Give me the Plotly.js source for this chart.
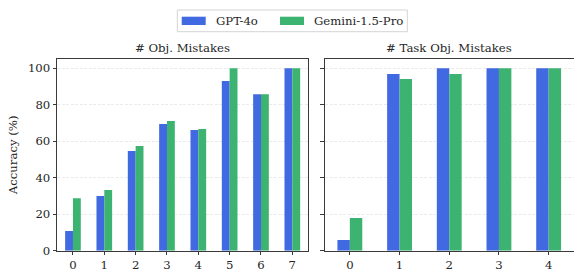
<!DOCTYPE html>
<html><head><meta charset="utf-8">
<script src="https://cdn.plot.ly/plotly-3.0.1.min.js"></script>
<style>html,body{margin:0;padding:0;background:#fff}</style>
</head><body><div id="chart" style="width:574px;height:271px"></div>
<script>
const objCats = ['0','1','2','3','4','5','6','7'];
const objGpt = [10.8, 30.0, 54.6, 69.4, 66.1, 92.9, 85.7, 100];
const objGemini = [28.7, 33.3, 57.4, 71.1, 66.7, 100, 85.7, 100];
const taskCats = ['0','1','2','3','4'];
const taskGpt = [5.9, 96.8, 100, 100, 100];
const taskGemini = [17.9, 94.1, 96.8, 100, 100];
const seriesNames = ['GPT-4o', 'Gemini-1.5-Pro'];
const colors = ['#4169E1', '#3CB371'];
const panelTitles = ['# Obj. Mistakes', '# Task Obj. Mistakes'];
const yTicks = [0, 20, 40, 60, 80, 100];

const W = 574, H = 271;
const px = v => v / W, py = v => (H - v) / H;
const FONT = '"DejaVu Serif", serif';
const FS = 11.7;
const TXT = {family:FONT, size:FS, color:'#262626'};

const traces = [
  {type:'bar', x: objCats, y: objGpt, name: seriesNames[0], marker:{color: colors[0]}, xaxis:'x', yaxis:'y', showlegend:false},
  {type:'bar', x: objCats, y: objGemini, name: seriesNames[1], marker:{color: colors[1]}, xaxis:'x', yaxis:'y', showlegend:false},
  {type:'bar', x: taskCats, y: taskGpt, name: seriesNames[0], marker:{color: colors[0]}, xaxis:'x2', yaxis:'y2', showlegend:false},
  {type:'bar', x: taskCats, y: taskGemini, name: seriesNames[1], marker:{color: colors[1]}, xaxis:'x2', yaxis:'y2', showlegend:false}
];

const axCommon = {
  showline:true, mirror:true, linecolor:'#3a3a3a', linewidth:1.2,
  ticks:'outside', ticklen:3.5, tickwidth:1, tickcolor:'#3a3a3a',
  tickfont:TXT, zeroline:false
};
const yDomain = [py(250.7), py(59)];
const yCommon = Object.assign({}, axCommon, {
  range:[0,105], tickvals: yTicks, showgrid:true, gridcolor:'#e6e6e6', griddash:'3px,1.5px', gridwidth:0.8,
  domain: yDomain
});

const layout = {
  width: W, height: H,
  margin:{l:0, r:0, t:0, b:0},
  paper_bgcolor:'#fff', plot_bgcolor:'#fff',
  font:TXT,
  barmode:'group', bargap:0.5, bargroupgap:0,
  xaxis: Object.assign({}, axCommon, {domain:[px(57.3), px(308)], anchor:'y', type:'category', range:[-0.5,7.5], showgrid:false}),
  yaxis: Object.assign({}, yCommon, {anchor:'x',
    title:{text:'Accuracy (%)', font:TXT, standoff:7}}),
  xaxis2: Object.assign({}, axCommon, {domain:[px(325), px(573.5)], anchor:'y2', type:'category', range:[-0.5,4.5], showgrid:false}),
  yaxis2: Object.assign({}, yCommon, {anchor:'x2', showticklabels:false}),
  annotations: [
    {text: panelTitles[0], xref:'paper', yref:'paper', x: px((57.3+308)/2), y: py(48), xanchor:'center', yanchor:'middle', showarrow:false, font:TXT},
    {text: panelTitles[1], xref:'paper', yref:'paper', x: px((325+573.5)/2), y: py(48), xanchor:'center', yanchor:'middle', showarrow:false, font:TXT},
    {text: seriesNames[0], xref:'paper', yref:'paper', x: px(213.5), y: py(20.7), xanchor:'left', yanchor:'middle', showarrow:false, font:TXT},
    {text: seriesNames[1], xref:'paper', yref:'paper', x: px(311.8), y: py(20.7), xanchor:'left', yanchor:'middle', showarrow:false, font:TXT}
  ],
  shapes: [
    {type:'rect', xref:'paper', yref:'paper', x0:px(177.3), x1:px(407.3), y0:py(31.7), y1:py(10), line:{color:'#d4d4d4', width:1}, fillcolor:'rgba(255,255,255,0.8)'},
    {type:'rect', xref:'paper', yref:'paper', x0:px(181.7), x1:px(205.7), y0:py(25), y1:py(16.7), line:{width:0}, fillcolor:colors[0]},
    {type:'rect', xref:'paper', yref:'paper', x0:px(280), x1:px(304), y0:py(25), y1:py(16.7), line:{width:0}, fillcolor:colors[1]}
  ]
};

Plotly.newPlot('chart', traces, layout, {staticPlot:true, displayModeBar:false});
</script></body></html>
